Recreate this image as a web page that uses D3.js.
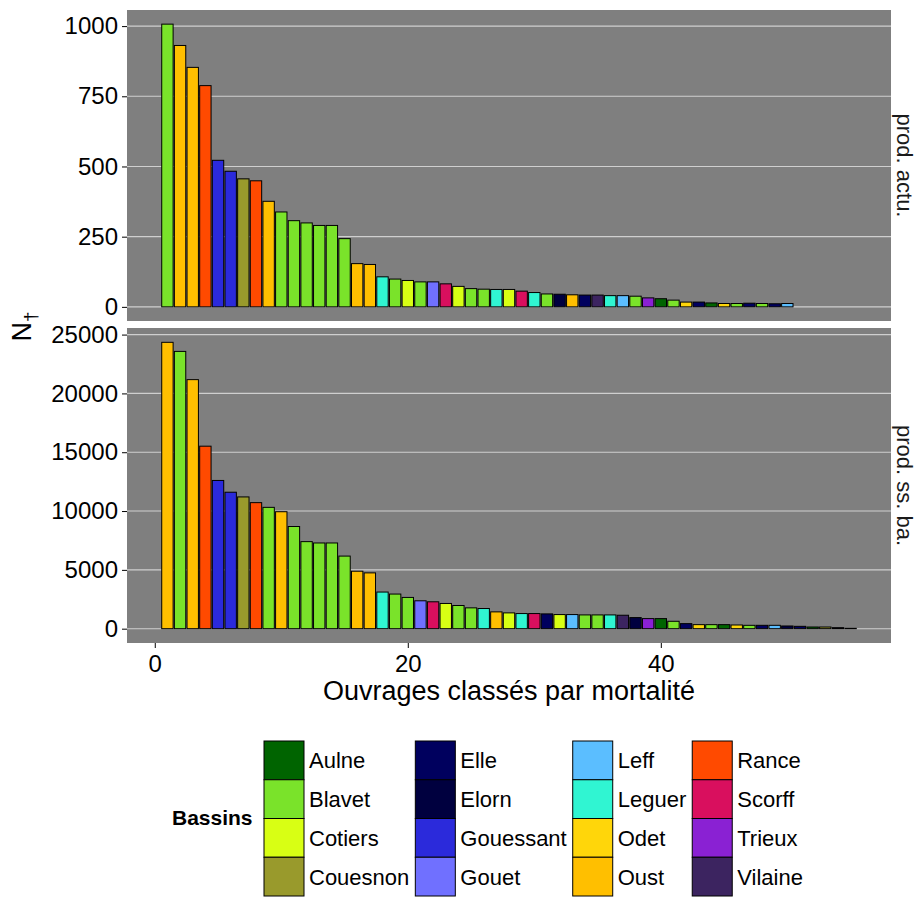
<!DOCTYPE html>
<html>
<head>
<meta charset="utf-8">
<script src="https://cdn.jsdelivr.net/npm/d3@7"></script>
<style>
  html, body { margin: 0; padding: 0; background: #ffffff; }
  svg { display: block; font-family: "Liberation Sans", Arial, Helvetica, sans-serif; }
</style>
</head>
<body>
<svg id="chart" width="919" height="900"></svg>
<script>
// ---------------- DATA ----------------
const basinNames = ["Aulne","Blavet","Cotiers","Couesnon","Elle","Elorn","Gouessant","Gouet",
                    "Leff","Leguer","Odet","Oust","Rance","Scorff","Trieux","Vilaine"];
const basinColors = ["#006400","#7AE32A","#D8FF14","#999A2C","#00005E","#00003F","#2B2ADB","#7070FF",
                     "#5BBEFF","#30F5D2","#FFD60A","#FFBF00","#FF4A00","#D90F5E","#8A21D3","#3C2460"];

const panelLabels = ["prod. actu.", "prod. ss. ba."];

// prod. actu. (ranked works)
const basinActu = ["Blavet","Oust","Oust","Rance","Gouessant","Gouessant","Couesnon","Rance","Oust","Blavet",
                   "Blavet","Blavet","Blavet","Blavet","Blavet","Oust","Oust","Leguer","Blavet","Cotiers",
                   "Blavet","Gouet","Scorff","Cotiers","Blavet","Blavet","Leguer","Cotiers","Scorff","Leguer",
                   "Blavet","Elorn","Oust","Elle","Vilaine","Leguer","Leff","Blavet","Trieux","Aulne",
                   "Blavet","Odet","Elle","Aulne","Odet","Blavet","Elle","Blavet","Elle","Leff"];
const valActu = [1007,931,853,788,522,483,456,449,376,338,
                 307,299,290,290,243,154,151,107,99,94,
                 89,89,82,73,65,63,62,62,56,51,
                 46,45,43,42,42,40,40,38,32,29,
                 24,17,17,14,12,12,13,12,11,12];

// prod. ss. ba.
const basinSsba = ["Oust","Blavet","Oust","Rance","Gouessant","Gouessant","Couesnon","Rance","Blavet","Oust",
                   "Blavet","Blavet","Blavet","Blavet","Blavet","Oust","Oust","Leguer","Blavet","Blavet",
                   "Gouet","Scorff","Cotiers","Blavet","Blavet","Leguer","Oust","Cotiers","Leguer","Scorff",
                   "Elle","Cotiers","Leff","Blavet","Blavet","Leguer","Vilaine","Elorn","Trieux","Aulne",
                   "Blavet","Elle","Odet","Blavet","Aulne","Odet","Blavet","Elle","Leff","Elorn",
                   "Elle","Aulne","Couesnon","Vilaine","Elorn"];
const valSsba = [24343,23571,21171,15514,12600,11600,11200,10714,10314,9943,
                 8686,7400,7286,7286,6171,4886,4743,3114,2943,2657,
                 2371,2286,2143,1971,1771,1714,1429,1343,1286,1286,
                 1257,1200,1200,1171,1171,1171,1143,943,857,857,
                 629,429,343,343,343,314,286,286,286,229,
                 200,143,143,86,29];

const yTicksActu = [0,250,500,750,1000];
const yTicksSsba = [0,5000,10000,15000,20000,25000];
const xTicks = [0,20,40];

const xTitle = "Ouvrages classés par mortalité";
const legendTitle = "Bassins";

// ---------------- LAYOUT ----------------
const svg = d3.select("#chart");
const panelL = 127, panelR = 891;
const panelBg = "#7F7F7F", gridCol = "#CFCFCF";
const color = d3.scaleOrdinal().domain(basinNames).range(basinColors);

const nMax = Math.max(valActu.length, valSsba.length);
const xlo = 1 - 0.45, xhi = nMax + 0.45, xpad = 0.05 * (xhi - xlo);
const x = d3.scaleLinear().domain([xlo - xpad, xhi + xpad]).range([panelL, panelR]);
const barW = x(0.9) - x(0);

const panels = [
  {label: panelLabels[0], top: 10, bottom: 321, basins: basinActu, values: valActu, ticks: yTicksActu},
  {label: panelLabels[1], top: 328, bottom: 643, basins: basinSsba, values: valSsba, ticks: yTicksSsba}
];

panels.forEach(p => {
  const mx = d3.max(p.values);
  const y = d3.scaleLinear().domain([-0.05 * mx, 1.05 * mx]).range([p.bottom, p.top]);
  const g = svg.append("g");
  g.append("rect").attr("x", panelL).attr("y", p.top)
    .attr("width", panelR - panelL).attr("height", p.bottom - p.top).attr("fill", panelBg);
  // grid
  g.selectAll("line.grid").data(p.ticks).enter().append("line")
    .attr("x1", panelL).attr("x2", panelR)
    .attr("y1", d => y(d)).attr("y2", d => y(d))
    .attr("stroke", gridCol).attr("stroke-width", 1.1);
  // bars
  const data = p.values.map((v, i) => ({rank: i + 1, v: v, b: p.basins[i]}));
  g.selectAll("rect.bar").data(data).enter().append("rect")
    .attr("x", d => x(d.rank) - barW / 2)
    .attr("width", barW)
    .attr("y", d => y(d.v))
    .attr("height", d => y(0) - y(d.v))
    .attr("fill", d => color(d.b))
    .attr("stroke", "#000").attr("stroke-width", 1);
  // y axis
  const ax = d3.axisLeft(y).tickValues(p.ticks).tickFormat(d3.format("d")).tickSize(5).tickPadding(4);
  const ag = svg.append("g").attr("transform", `translate(${panelL},0)`).call(ax);
  ag.select(".domain").remove();
  ag.selectAll("text").attr("fill", "#000").style("font-size", "24px");
  ag.selectAll("line").attr("stroke", "#000");
  // strip label
  const cy = (p.top + p.bottom) / 2;
  svg.append("text").attr("transform", `translate(897,${cy}) rotate(90)`)
    .attr("text-anchor", "middle").style("font-size", "22px").attr("fill", "#1a1a1a")
    .text(p.label);
});

// x axis
const xax = d3.axisBottom(x).tickValues(xTicks).tickFormat(d3.format("d")).tickSize(5).tickPadding(7);
const xg = svg.append("g").attr("transform", `translate(0,${panels[1].bottom})`).call(xax);
xg.select(".domain").remove();
xg.selectAll("text").attr("fill", "#000").style("font-size", "24px");
xg.selectAll("line").attr("stroke", "#000");

svg.append("text").attr("x", (panelL + panelR) / 2).attr("y", 700)
  .attr("text-anchor", "middle").style("font-size", "27px").text(xTitle);

// y title N†
const yt = svg.append("text").attr("transform", `translate(31,${(panels[0].top + panels[1].bottom) / 2}) rotate(-90)`)
  .attr("text-anchor", "middle").style("font-size", "27px");
yt.append("tspan").text("N");
yt.append("tspan").attr("dy", 6).style("font-size", "19px").text("\u2020");

// legend
const keyW = 40, keyH = 38.75, keyTop = 741;
const legend = svg.append("g");
legend.append("text").attr("x", 172).attr("y", keyTop + 2 * keyH + 6)
  .style("font-size", "21px").style("font-weight", "bold").text(legendTitle);
const nCols = 4, nRows = 4;
let colX = 264;
for (let c = 0; c < nCols; c++) {
  let maxW = 0;
  for (let r = 0; r < nRows; r++) {
    const idx = c * nRows + r;
    const name = basinNames[idx];
    legend.append("rect").attr("x", colX).attr("y", keyTop + r * keyH)
      .attr("width", keyW).attr("height", keyH)
      .attr("fill", color(name)).attr("stroke", "#000").attr("stroke-width", 1);
    const t = legend.append("text").attr("x", colX + keyW + 5).attr("y", keyTop + r * keyH + keyH / 2 + 8)
      .style("font-size", "22px").text(name);
    maxW = Math.max(maxW, t.node().getComputedTextLength());
  }
  colX = colX + keyW + 5 + maxW + 6;
}
</script>
</body>
</html>
